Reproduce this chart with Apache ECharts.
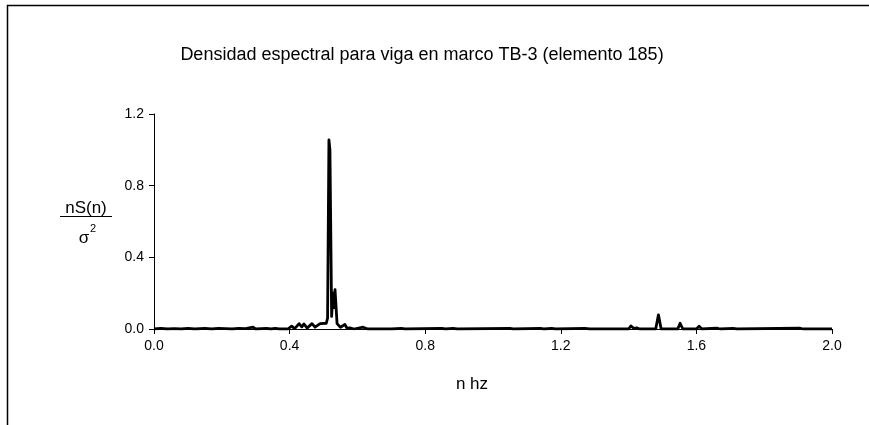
<!DOCTYPE html>
<html>
<head>
<meta charset="utf-8">
<script src="https://cdn.jsdelivr.net/npm/echarts@6/dist/echarts.min.js"></script>
<style>
html,body{margin:0;padding:0;background:#fff;}
#chart{width:869px;height:425px;}
</style>
</head>
<body>
<div id="chart"></div>
<script>
// frequency n (Hz)
var freqN = [
  0.000, 0.020, 0.040, 0.060, 0.080, 0.100, 0.120, 0.150, 0.170, 0.190,
  0.210, 0.230, 0.250, 0.270, 0.292, 0.300, 0.332, 0.345, 0.357, 0.370,
  0.395, 0.406, 0.415, 0.428, 0.436, 0.442, 0.452, 0.466, 0.475, 0.490,
  0.508, 0.512, 0.516, 0.519, 0.524, 0.528, 0.531, 0.534, 0.540, 0.550,
  0.563, 0.570, 0.578, 0.590, 0.617, 0.630, 0.700, 0.730, 0.740, 0.849,
  0.860, 0.882, 0.895, 1.050, 1.060, 1.139, 1.150, 1.173, 1.185, 1.271,
  1.285, 1.400, 1.407, 1.415, 1.424, 1.432, 1.480, 1.488, 1.496, 1.545,
  1.552, 1.560, 1.600, 1.608, 1.616, 1.660, 1.670, 1.708, 1.720, 1.904,
  1.915, 2.000
];
// normalized spectral density nS(n)/sigma^2
var spectrum = [
  0.000, 0.003, 0.000, 0.002, 0.000, 0.003, 0.000, 0.003, 0.000, 0.004,
  0.002, 0.000, 0.004, 0.002, 0.010, 0.000, 0.004, 0.000, 0.004, 0.000,
  0.000, 0.016, 0.002, 0.030, 0.012, 0.028, 0.005, 0.030, 0.010, 0.030,
  0.032, 0.060, 1.055, 1.000, 0.070, 0.200, 0.120, 0.220, 0.030, 0.010,
  0.025, 0.003, 0.006, 0.000, 0.010, 0.000, 0.000, 0.003, 0.000, 0.003,
  0.000, 0.003, 0.000, 0.003, 0.000, 0.003, 0.000, 0.003, 0.000, 0.003,
  0.000, 0.000, 0.017, 0.004, 0.006, 0.000, 0.000, 0.079, 0.000, 0.000,
  0.032, 0.000, 0.000, 0.015, 0.000, 0.005, 0.000, 0.003, 0.000, 0.005,
  0.000, 0.000
];
var xTicks = ['0.0', '0.4', '0.8', '1.2', '1.6', '2.0'];
var yTicks = ['0.0', '0.4', '0.8', '1.2'];
var titleText = 'Densidad espectral para viga en marco TB-3 (elemento 185)';
var xName = 'n hz';

var FONT = '"Liberation Sans", Arial, sans-serif';
var seriesData = freqN.map(function (n, i) { return [n, spectrum[i]]; });

var chart = echarts.init(document.getElementById('chart'), null, {renderer: 'canvas'});
chart.setOption({
  animation: false,
  backgroundColor: '#ffffff',
  grid: {left: 154, right: 37, top: 114, bottom: 96, containLabel: false},
  xAxis: {
    type: 'value', min: 0, max: 2, interval: 0.4,
    axisLine: {show: true, onZero: false, lineStyle: {color: '#000', width: 1}},
    axisTick: {show: true, inside: false, length: 5, lineStyle: {color: '#000'}},
    splitLine: {show: false},
    axisLabel: {
      color: '#000', fontSize: 14, fontFamily: FONT, margin: 10,
      formatter: function (v) { return xTicks[Math.round(v / 0.4)]; }
    }
  },
  yAxis: {
    type: 'value', min: 0, max: 1.2, interval: 0.4,
    axisLine: {show: true, lineStyle: {color: '#000', width: 1}},
    axisTick: {show: true, inside: false, length: 5, lineStyle: {color: '#000'}},
    splitLine: {show: false},
    axisLabel: {
      color: '#000', fontSize: 14, fontFamily: FONT, margin: 10,
      formatter: function (v) { return yTicks[Math.round(v / 0.4)]; }
    }
  },
  series: [{
    type: 'line',
    data: seriesData,
    showSymbol: false,
    symbol: 'none',
    lineStyle: {color: '#000', width: 2.8, join: 'round'},
    z: 3
  }],
  graphic: [
    {type: 'rect', shape: {x: 7.5, y: 5.5, width: 900, height: 500}, style: {fill: null, stroke: '#000', lineWidth: 1.5}, silent: true},
    {type: 'text', x: 422, y: 55, style: {text: titleText, font: '18px ' + FONT, fill: '#000', textAlign: 'center', textVerticalAlign: 'middle'}},
    {type: 'text', x: 472, y: 384, style: {text: xName, font: '17px ' + FONT, fill: '#000', textAlign: 'center', textVerticalAlign: 'middle'}},
    {type: 'text', x: 86, y: 208, style: {text: 'nS(n)', font: '17px ' + FONT, fill: '#000', textAlign: 'center', textVerticalAlign: 'middle'}},
    {type: 'line', shape: {x1: 60, y1: 216.5, x2: 112, y2: 216.5}, style: {stroke: '#000', lineWidth: 1.2}},
    {type: 'text', x: 84, y: 238, style: {text: 'σ', font: '17px ' + FONT, fill: '#000', textAlign: 'center', textVerticalAlign: 'middle'}},
    {type: 'text', x: 93, y: 229, style: {text: '2', font: '11px ' + FONT, fill: '#000', textAlign: 'center', textVerticalAlign: 'middle'}}
  ]
});
</script>
</body>
</html>
